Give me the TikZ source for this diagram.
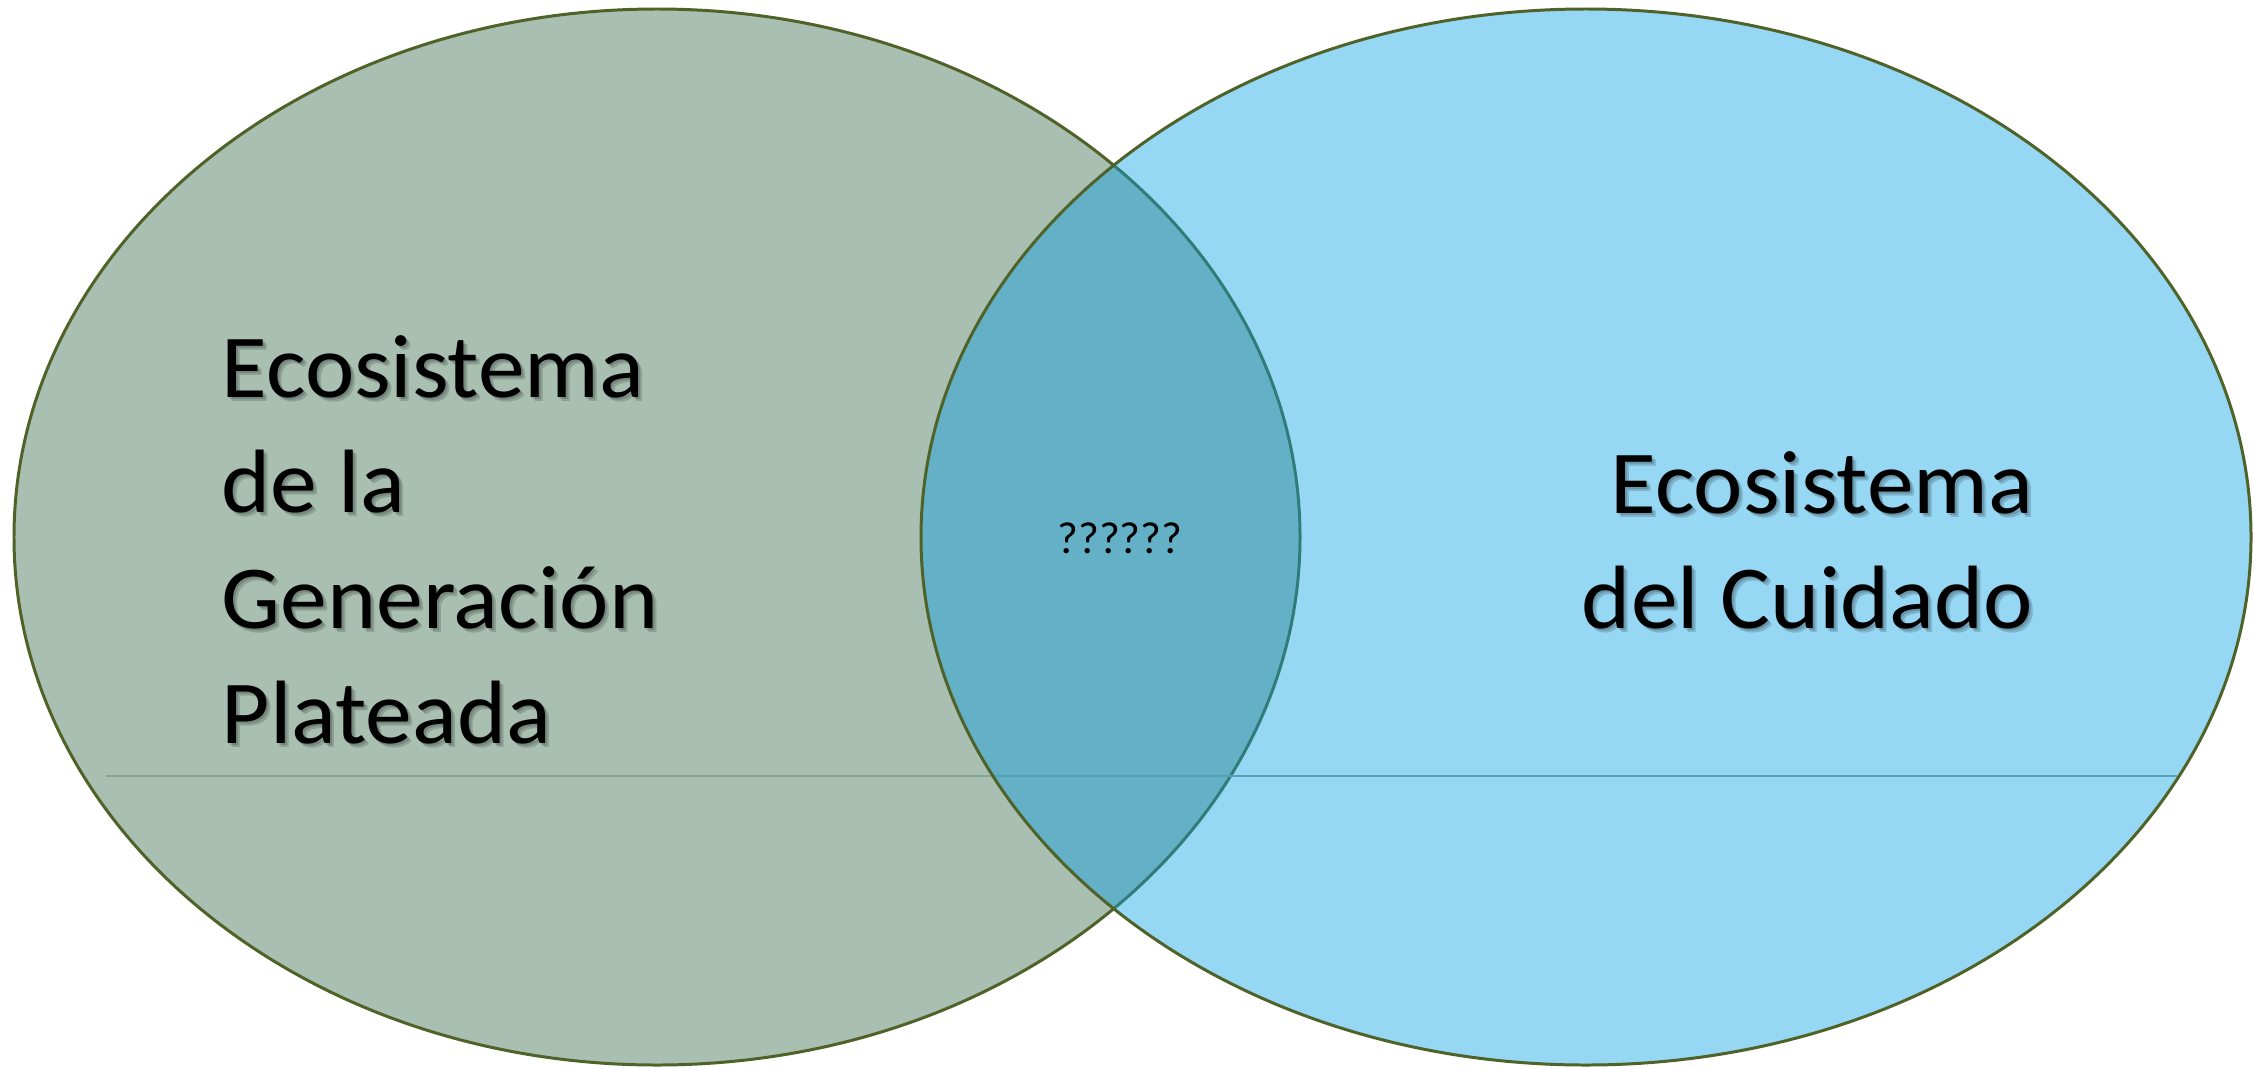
\documentclass[tikz,border=0pt]{standalone}
\usepackage{fontspec}
\setmainfont{Carlito}
\usetikzlibrary{shapes.geometric}
\definecolor{silvergreen}{RGB}{168,191,177}
\definecolor{careblue}{RGB}{7,160,231}
\definecolor{rimolive}{RGB}{79,98,40}
\definecolor{rulegray}{RGB}{138,164,150}
\begin{document}
\begin{tikzpicture}[
		eco/.style={ellipse,inner sep=0pt,minimum height=10.56cm},
		bigtxt/.style={font=\fontsize{25.6}{30}\selectfont,inner sep=0pt,xscale=1.04,transform shape},
		shadetxt/.style={bigtxt,text=black,text opacity=0.16}
	]
	\useasboundingbox (0,0) rectangle (22.55,-10.68);
	\fill[white] (0,0) rectangle (22.55,-10.68);

	% the two ecosystems
	\node[eco,draw=rimolive,line width=0.85pt,fill=silvergreen,minimum width=12.86cm] (plateada) at (6.57,-5.37) {};
	\coordinate (ruleL) at (1.06,-7.76);
	\coordinate (ruleR) at (21.77,-7.76);
	\draw[rulegray,line width=0.7pt] (ruleL) -- (ruleR);
	\node[eco,fill=careblue,fill opacity=0.42,minimum width=13.30cm] (cuidado) at (15.86,-5.37) {};
	\node[eco,draw=rimolive,line width=0.85pt,minimum width=13.30cm] (cuidadoRim) at (15.86,-5.37) {};

	% left text
	\foreach \txt/\yy [count=\i] in {Ecosistema/3.97,de la/5.125,Generación/6.28,Plateada/7.435}{
		\node[shadetxt,anchor=base west] (ls\i) at (2.23,-\yy-0.02) {\txt};
		\node[shadetxt,anchor=base west] (lt\i) at (2.25,-\yy-0.04) {\txt};
		\node[bigtxt,anchor=base west] (l\i) at (2.21,-\yy) {\txt};
	}

	% right text
	\foreach \txt/\yy [count=\i] in {Ecosistema/5.13,del Cuidado/6.28}{
		\node[shadetxt,anchor=base east] (rs\i) at (20.36,-\yy-0.02) {\txt};
		\node[shadetxt,anchor=base east] (rt\i) at (20.38,-\yy-0.04) {\txt};
		\node[bigtxt,anchor=base east] (r\i) at (20.34,-\yy) {\txt};
	}

	% shared part
	\node[font=\fontsize{12.8}{15}\selectfont,inner sep=0pt,anchor=base] (q) at (11.20,-5.53) {??????};
\end{tikzpicture}
\end{document}
